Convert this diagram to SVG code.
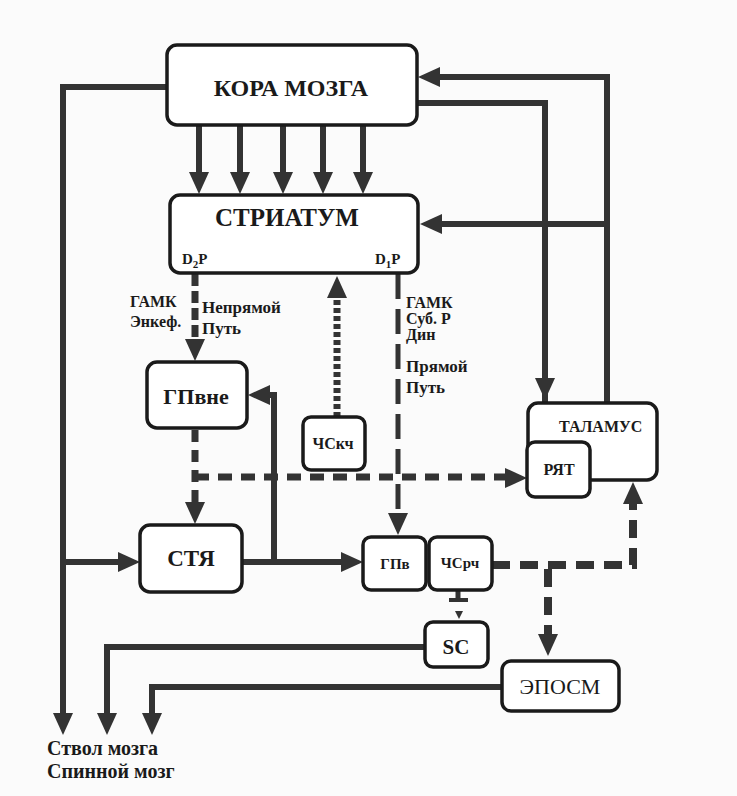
<svg xmlns="http://www.w3.org/2000/svg" width="737" height="796" viewBox="0 0 737 796">
<style>
.box{fill:#fff;stroke:#1a1a1a;stroke-width:3.5}
.ln{fill:none;stroke:#333;stroke-width:6}
.dash{fill:none;stroke:#333;stroke-width:7;stroke-dasharray:14 9}
.dot{fill:none;stroke:#333;stroke-width:7;stroke-dasharray:5 3}
.d1{fill:none;stroke:#333;stroke-width:5;stroke-dasharray:25 10}
.ah{fill:#333}
.c{text-anchor:middle}
</style>
<defs>
<path id="ah" d="M-10,-22 L10,-22 L0,0 Z"/>
<path id="ahs" d="M-4,-8 L4,-8 L0,0 Z"/>
</defs>
<rect x="0" y="0" width="737" height="796" fill="#fbfbfb"/>
<g id="connectors">
<path class="ln" d="M167,87 H63 V715"/>
<use href="#ah" class="ah" transform="translate(63,735)"/>
<path class="ln" d="M199,125 V173 M240,125 V173 M283,125 V173 M323,125 V173 M363,125 V173"/>
<use href="#ah" class="ah" transform="translate(199,194)"/>
<use href="#ah" class="ah" transform="translate(240,194)"/>
<use href="#ah" class="ah" transform="translate(283,194)"/>
<use href="#ah" class="ah" transform="translate(323,194)"/>
<use href="#ah" class="ah" transform="translate(363,194)"/>
<path class="ln" d="M607,403 V77 H438"/>
<use href="#ah" class="ah" transform="translate(418,77) rotate(90)"/>
<path class="ln" d="M607,224 H440"/>
<use href="#ah" class="ah" transform="translate(420,224) rotate(90)"/>
<path class="ln" d="M417,103 H545 V420"/>
<use href="#ah" class="ah" transform="translate(545,400)"/>
<use href="#ah" class="ah" transform="translate(545,441)"/>
<path class="dash" style="stroke-dasharray:12 5" d="M195,274 V340"/>
<use href="#ah" class="ah" transform="translate(195,361)"/>
<path class="dash" style="stroke-dasharray:12 8" d="M195,430 V503"/>
<use href="#ah" class="ah" transform="translate(195,524)"/>
<path class="dash" d="M195,477 H505"/>
<use href="#ah" class="ah" transform="translate(527,478) rotate(-90)"/>
<path class="dot" d="M337,417 V296"/>
<use href="#ah" class="ah" transform="translate(337,276) rotate(180)"/>
<path class="d1" d="M398,274 V514"/>
<use href="#ah" class="ah" transform="translate(398,535)"/>
<path class="ln" d="M242,562 H343"/>
<use href="#ah" class="ah" transform="translate(363,562) rotate(-90)"/>
<path class="ln" d="M274,562 V395 H266"/>
<use href="#ah" class="ah" transform="translate(248,395) rotate(90)"/>
<path class="ln" d="M63,562 H120"/>
<use href="#ah" class="ah" transform="translate(140,562) rotate(-90)"/>
<path class="dash" style="stroke-width:8;stroke-dasharray:18 10" d="M492,565 H633 V503"/>
<use href="#ah" class="ah" transform="translate(633,482) rotate(180)"/>
<path class="dash" style="stroke-width:8;stroke-dasharray:18 10" d="M548,569 V636"/>
<use href="#ah" class="ah" transform="translate(548,656)"/>
<path fill="none" stroke="#333" stroke-width="5" d="M458,590 V599"/>
<path fill="none" stroke="#333" stroke-width="4" d="M449,600 H468"/>
<use href="#ahs" class="ah" transform="translate(459,619)"/>
<path class="ln" d="M425,647 H107 V715"/>
<use href="#ah" class="ah" transform="translate(107,735)"/>
<path class="ln" d="M502,687 H152 V715"/>
<use href="#ah" class="ah" transform="translate(152,735)"/>
</g>
<g font-family="Liberation Serif, Times New Roman, serif" font-weight="bold" fill="#1a1a1a">
<g id="cortex">
<rect class="box" x="167" y="45" width="250" height="80" rx="10"/>
<text class="c" x="291" y="96" font-size="24" font-family="Liberation Serif, serif">КОРА МОЗГА</text>
</g>
<g id="striatum">
<rect class="box" x="170" y="195" width="248" height="78" rx="10"/>
<text class="c" x="287" y="226" font-size="25" font-family="Liberation Serif, serif">СТРИАТУМ</text>
<text x="182" y="264" font-size="15" font-family="Liberation Serif, serif">D<tspan font-size="11" dy="4">2</tspan><tspan dy="-4">P</tspan></text>
<text x="375" y="264" font-size="15" font-family="Liberation Serif, serif">D<tspan font-size="11" dy="4">1</tspan><tspan dy="-4">P</tspan></text>
</g>
<g id="labels-indirect">
<text x="130" y="307" font-size="16" font-family="Liberation Serif, serif">ГАМК</text>
<text x="130" y="327" font-size="16" font-family="Liberation Serif, serif">Энкеф.</text>
<text x="202" y="313" font-size="17" font-family="Liberation Serif, serif">Непрямой</text>
<text x="202" y="334" font-size="17" font-family="Liberation Serif, serif">Путь</text>
</g>
<g id="labels-direct">
<text x="406" y="308" font-size="16" font-family="Liberation Serif, serif">ГАМК</text>
<text x="406" y="324" font-size="16" font-family="Liberation Serif, serif">Суб. Р</text>
<text x="406" y="340" font-size="16" font-family="Liberation Serif, serif">Дин</text>
<text x="406" y="372" font-size="17" font-family="Liberation Serif, serif">Прямой</text>
<text x="406" y="393" font-size="17" font-family="Liberation Serif, serif">Путь</text>
</g>
<g id="gpe">
<rect class="box" x="147" y="362" width="100" height="66" rx="10"/>
<text class="c" x="196" y="404" font-size="22" font-family="Liberation Serif, serif">ГПвне</text>
</g>
<g id="snc">
<rect class="box" x="303" y="417" width="62" height="53" rx="8"/>
<text class="c" x="333" y="449" font-size="16" font-family="Liberation Serif, serif">ЧСкч</text>
</g>
<g id="thalamus">
<rect class="box" x="528" y="403" width="129" height="77" rx="10"/>
<text x="559" y="432" font-size="16" font-family="Liberation Serif, serif">ТАЛАМУС</text>
</g>
<g id="ryat">
<rect class="box" x="527" y="442" width="63" height="55" rx="8"/>
<text class="c" x="559" y="475" font-size="16" font-family="Liberation Serif, serif">РЯТ</text>
</g>
<g id="stn">
<rect class="box" x="140" y="525" width="102" height="67" rx="10"/>
<text class="c" x="191" y="566" font-size="23" font-family="Liberation Serif, serif">СТЯ</text>
</g>
<g id="gpi">
<rect class="box" x="363" y="537" width="63" height="53" rx="8"/>
<text class="c" x="395" y="569" font-size="15" font-family="Liberation Serif, serif">ГПв</text>
</g>
<g id="snr">
<rect class="box" x="429" y="537" width="63" height="53" rx="8"/>
<text class="c" x="460" y="568" font-size="15" font-family="Liberation Serif, serif">ЧСрч</text>
</g>
<g id="sc">
<rect class="box" x="425" y="622" width="63" height="45" rx="8"/>
<text class="c" x="456" y="654" font-size="21" font-family="Liberation Serif, serif">SC</text>
</g>
<g id="eposm">
<rect class="box" x="502" y="661" width="117" height="50" rx="9"/>
<text class="c" x="560" y="694" font-size="22" font-weight="normal" font-family="Liberation Serif, serif">ЭПОСМ</text>
</g>
<g id="brainstem">
<text x="47" y="755" font-size="20" font-family="Liberation Serif, serif">Ствол мозга</text>
<text x="47" y="778" font-size="20" font-family="Liberation Serif, serif">Спинной мозг</text>
</g>
</g>
</svg>
